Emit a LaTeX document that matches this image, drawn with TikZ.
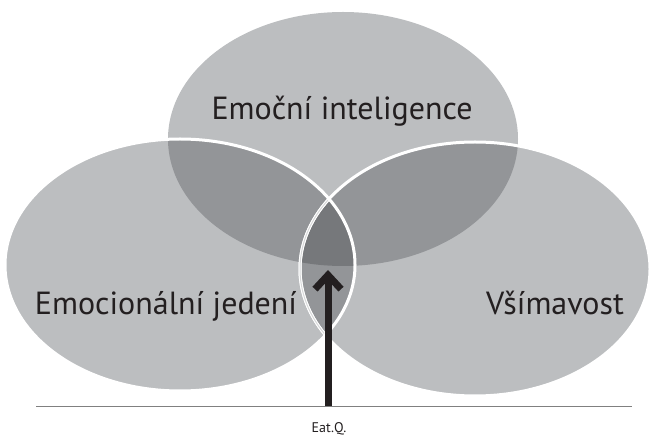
\documentclass[tikz,border=0pt]{standalone}
\usepackage{fontspec}
\setmainfont{PT Sans}
\usetikzlibrary{arrows.meta}
\definecolor{vennbase}{HTML}{BCBEC0}
\definecolor{venntwo}{HTML}{939598}
\definecolor{vennthree}{HTML}{76787B}
\definecolor{ink}{HTML}{231F20}
\tikzset{
  vennlabel/.style={font=\fontsize{32}{38}\selectfont, text=ink, anchor=base, inner sep=0pt},
  rim/.style={draw=white, line width=3pt}
}

\begin{document}
\begin{tikzpicture}[x=1pt, y=-1pt]
			\useasboundingbox (0,0) rectangle (650,435);

			% Sets
			\fill[vennbase] (343,139) ellipse [x radius=175pt, y radius=127pt];
			\fill[vennbase] (180,265) ellipse [x radius=175pt, y radius=126pt];
			\fill[vennbase] (475,269) ellipse [x radius=175pt, y radius=127pt];

			% Overlaps
			\begin{scope}
				\clip (343,139) ellipse [x radius=175pt, y radius=127pt];
				\fill[venntwo] (180,265) ellipse [x radius=175pt, y radius=126pt];
				\fill[venntwo] (475,269) ellipse [x radius=175pt, y radius=127pt];
			\end{scope}
			\begin{scope}
				\clip (180,265) ellipse [x radius=175pt, y radius=126pt];
				\fill[venntwo] (475,269) ellipse [x radius=175pt, y radius=127pt];
				\clip (343,139) ellipse [x radius=175pt, y radius=127pt];
				\fill[vennthree] (475,269) ellipse [x radius=175pt, y radius=127pt];
			\end{scope}

			% Rims
			\draw[rim] (475,269) ellipse [x radius=175pt, y radius=127pt];
			\draw[rim] (180,265) ellipse [x radius=175pt, y radius=126pt];
			\begin{scope}
				\clip (180,265) ellipse [x radius=173pt, y radius=124pt];
				\draw[draw=white, line width=1pt, double=vennbase!60!white, double distance=1pt] (475,269) ellipse [x radius=175pt, y radius=127pt];
			\end{scope}

			% Labels
			\node[vennlabel] (ei) at (342,120) {Emoční inteligence};
			\node[vennlabel] (ej) at (166,315) {Emocionální jedení};
			\node[vennlabel] (vs) at (555,315) {Všímavost};

			% Axis and arrow
			\coordinate (axisL) at (36,406);
			\coordinate (axisR) at (632,406);
			\coordinate (foot) at (328,406);
			\coordinate (tip) at (328,270);
			\draw[line width=1pt, draw=gray] (axisL) -- (axisR);
			\draw[ink, line width=7pt, -{Straight Barb[length=14pt, width=26pt, sharp]}] (foot) -- (tip);
			\node[font=\fontsize{14}{16}\selectfont, text=ink, anchor=base, inner sep=0pt] (eat) at (329,432) {Eat.Q.};
		\end{tikzpicture}
\end{document}
